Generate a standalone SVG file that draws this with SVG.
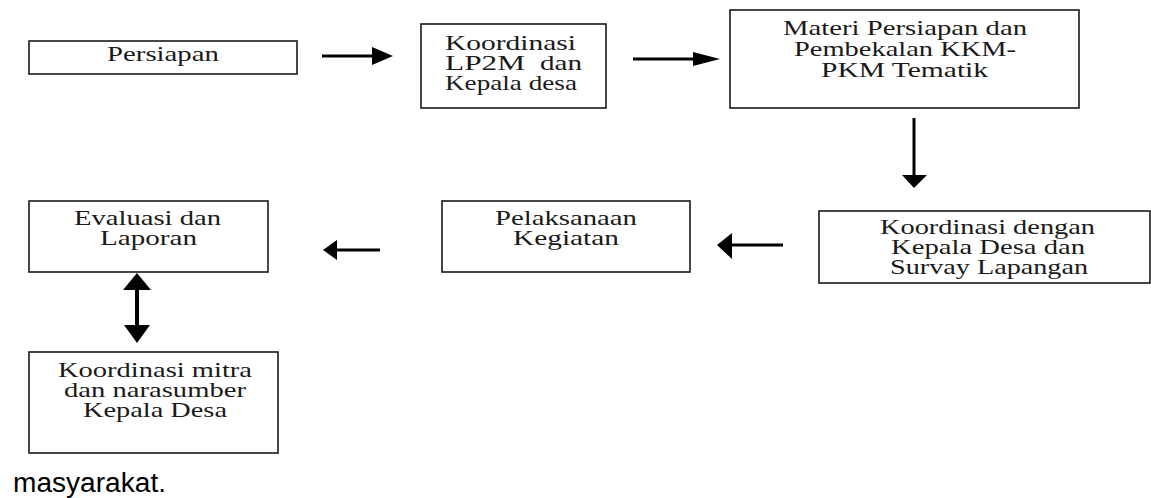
<svg xmlns="http://www.w3.org/2000/svg" width="1151" height="498" viewBox="0 0 1151 498">
<style>
.box{fill:#fff;stroke:#1a1a1a;stroke-width:1.6}
.t{font-family:"Liberation Serif","Times New Roman",serif;font-size:20px;fill:#1a1a1a}
.ln{stroke:#000;stroke-width:3;fill:none}
.hd{fill:#000}
</style>
<rect width="1151" height="498" fill="#fff"/>
<g id="connectors">
  <line class="ln" x1="322" y1="56" x2="374" y2="56"/>
  <polygon class="hd" points="393,56 372,47 372,65"/>
  <line class="ln" x1="633" y1="59" x2="695" y2="59"/>
  <polygon class="hd" points="720,59 693,52 693,66"/>
  <line class="ln" x1="914" y1="118" x2="914" y2="177"/>
  <polygon class="hd" points="914,188 902,175 927,175"/>
  <line class="ln" x1="783" y1="245" x2="730" y2="245"/>
  <polygon class="hd" points="717,245 732,233 732,259"/>
  <line class="ln" x1="380" y1="250" x2="335" y2="250"/>
  <polygon class="hd" points="323,250 337,240 337,260"/>
  <line class="ln" style="stroke-width:4" x1="137" y1="288" x2="137" y2="327"/>
  <polygon class="hd" points="137,273 123,290 151,290"/>
  <polygon class="hd" points="137,343 124,325 150,325"/>
</g>
<g id="persiapan">
  <rect class="box" x="29" y="41" width="268" height="33"/>
  <text class="t" transform="translate(107 61) scale(1.45 1)" textLength="77.2" lengthAdjust="spacingAndGlyphs">Persiapan</text>
</g>
<g id="koordinasi-lp2m">
  <rect class="box" x="421" y="24" width="185" height="84"/>
  <text class="t" transform="translate(445 50) scale(1.45 1)" textLength="90.3" lengthAdjust="spacingAndGlyphs">Koordinasi</text>
  <text class="t" transform="translate(445 70) scale(1.45 1)" textLength="55.2" lengthAdjust="spacingAndGlyphs">LP2M</text>
  <text class="t" transform="translate(540 70) scale(1.45 1)" textLength="29" lengthAdjust="spacingAndGlyphs">dan</text>
  <text class="t" transform="translate(445 90) scale(1.45 1)" textLength="91" lengthAdjust="spacingAndGlyphs">Kepala desa</text>
</g>
<g id="materi">
  <rect class="box" x="730" y="10" width="349" height="98"/>
  <text class="t" transform="translate(783 35) scale(1.45 1)" textLength="168.3" lengthAdjust="spacingAndGlyphs">Materi Persiapan dan</text>
  <text class="t" transform="translate(794 56) scale(1.45 1)" textLength="153.1" lengthAdjust="spacingAndGlyphs">Pembekalan KKM-</text>
  <text class="t" transform="translate(821 77) scale(1.45 1)" textLength="115.2" lengthAdjust="spacingAndGlyphs">PKM Tematik</text>
</g>
<g id="koordinasi-dengan">
  <rect class="box" x="819" y="211" width="331" height="72"/>
  <text class="t" transform="translate(880 234) scale(1.45 1)" textLength="148.3" lengthAdjust="spacingAndGlyphs">Koordinasi dengan</text>
  <text class="t" transform="translate(891 254) scale(1.45 1)" textLength="133.8" lengthAdjust="spacingAndGlyphs">Kepala Desa dan</text>
  <text class="t" transform="translate(890 274) scale(1.45 1)" textLength="136.6" lengthAdjust="spacingAndGlyphs">Survay Lapangan</text>
</g>
<g id="pelaksanaan">
  <rect class="box" x="442" y="201" width="248" height="71"/>
  <text class="t" transform="translate(495 225) scale(1.45 1)" textLength="97.9" lengthAdjust="spacingAndGlyphs">Pelaksanaan</text>
  <text class="t" transform="translate(513 245) scale(1.45 1)" textLength="73.1" lengthAdjust="spacingAndGlyphs">Kegiatan</text>
</g>
<g id="evaluasi">
  <rect class="box" x="29" y="201" width="239" height="71"/>
  <text class="t" transform="translate(74 225) scale(1.45 1)" textLength="101.4" lengthAdjust="spacingAndGlyphs">Evaluasi dan</text>
  <text class="t" transform="translate(100 245) scale(1.45 1)" textLength="66.9" lengthAdjust="spacingAndGlyphs">Laporan</text>
</g>
<g id="koordinasi-mitra">
  <rect class="box" x="29" y="352" width="249" height="101"/>
  <text class="t" transform="translate(58 377) scale(1.45 1)" textLength="133.8" lengthAdjust="spacingAndGlyphs">Koordinasi mitra</text>
  <text class="t" transform="translate(64 397) scale(1.45 1)" textLength="125.5" lengthAdjust="spacingAndGlyphs">dan narasumber</text>
  <text class="t" transform="translate(83 417) scale(1.45 1)" textLength="99.3" lengthAdjust="spacingAndGlyphs">Kepala Desa</text>
</g>
<text x="13" y="492" font-family="'Liberation Sans', Arial, sans-serif" font-size="27" fill="#000" textLength="153" lengthAdjust="spacingAndGlyphs">masyarakat.</text>
</svg>
